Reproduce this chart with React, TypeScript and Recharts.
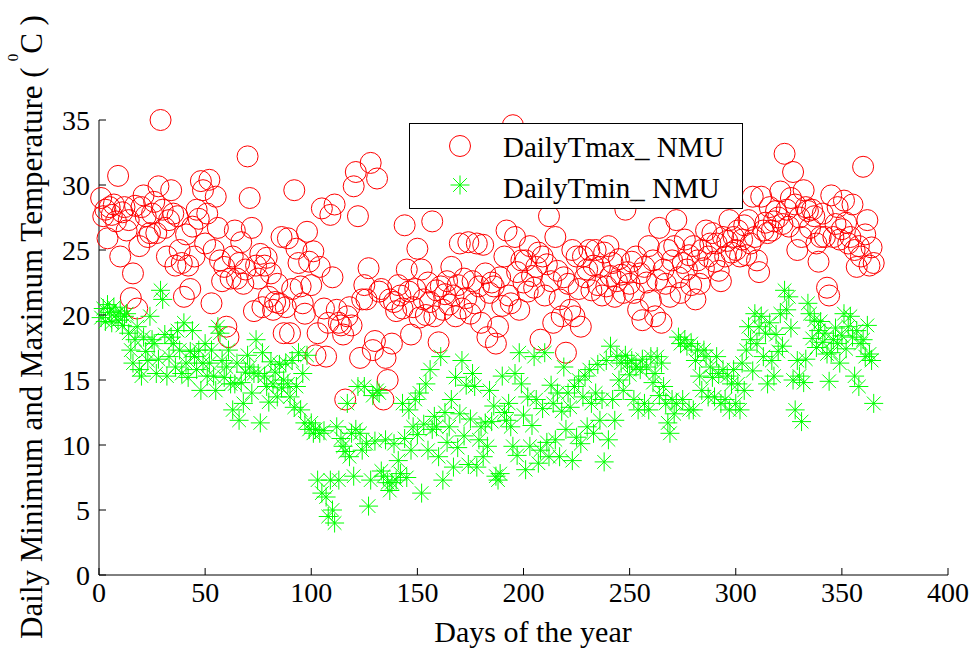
import React from "react";
import { Label, Legend, Scatter, ScatterChart, XAxis, YAxis } from "recharts";

// daily maximum temperature, day 1..365 (deg C)
const tmax = [
  29, 27.6, 28.1, 25.9, 28.3, 27.7, 28.5, 27.2, 30.7, 24.5,
  27.9, 28.3, 26.5, 27.3, 21.3, 23.2, 28.4, 20.5, 25.3, 28.3,
  29.2, 27.6, 26, 26.3, 27.8, 28.7, 26.3, 29.9, 35, 28.1,
  26.7, 24.5, 27.3, 29.6, 27.8, 23.8, 27.6, 25, 24, 21.4,
  26.2, 23.8, 22, 26.8, 24.5, 28.1, 27.4, 30.3, 29.6, 25.5,
  27.8, 30.4, 20.9, 25, 29.1, 26.7, 24.2, 22.6, 23.7, 19.1,
  18.3, 22.8, 24.5, 26.5, 22.8, 24, 25.6, 22.4, 23.5, 32.2,
  29, 26.7, 20.3, 23.8, 22.8, 24.7, 20.6, 23.8, 24.4, 21.4,
  23.2, 20.4, 21, 22.4, 20.9, 26, 18.6, 20.6, 25.9, 18.6,
  22, 29.6, 25.1, 24, 22.2, 20.9, 20.1, 26.4, 24.1, 22.3,
  24.9, 16.9, 18.6, 23.7, 28.2, 20.5, 16.8, 19.4, 27.7, 22.9,
  28.5, 20.4, 19.4, 19.2, 18.5, 13.5, 19.9, 20.6, 19.2, 29.9,
  31, 27.6, 16.7, 21.2, 22.3, 21.2, 23.6, 31.7, 17.3, 18,
  30.5, 21.8, 22, 13.5, 16.7, 15, 21.2, 17.8, 21, 20.3,
  22.3, 21.5, 20.5, 26.9, 23.5, 21.8, 18.5, 20.6, 22, 25.1,
  19.8, 23.5, 21.2, 20, 22.5, 21, 27.2, 19.9, 21.9, 17.9,
  22.2, 20.4, 21.6, 22.6, 20.8, 23.7, 21.5, 19.9, 22.3, 25.5,
  20.5, 22.8, 21.3, 25.6, 20.1, 22.6, 20.9, 25.5, 22.2, 19.4,
  25.4, 23.2, 18.3, 21.7, 22.5, 22.2, 17.8, 19.1, 22.9, 20.7,
  24.5, 26.5, 21.5, 20.9, 34.6, 26, 23.3, 20.4, 24.2, 22.5,
  24.2, 21.8, 25.3, 23, 22.1, 23.7, 24.8, 18.1, 24.5, 21.5,
  23.9, 27.6, 22.6, 19.4, 26, 23.4, 21.2, 19.9, 22.9, 17.1,
  22.4, 20.4, 25, 19.9, 24.5, 22, 19.1, 24.5, 22.9, 23.5,
  25, 21.9, 23.8, 25, 22.3, 23.7, 21.5, 24.8, 22.2, 25.3,
  23, 24, 21.4, 22.6, 24.3, 23.1, 21.7, 28.1, 23.3, 22.4,
  24.1, 21.7, 24.5, 20.4, 23.2, 19.6, 23.7, 22.5, 25.3, 21.1,
  24.2, 19.9, 22.7, 26.7, 19.4, 23.5, 22.4, 25, 21.4, 24.2,
  25.3, 27.3, 22.9, 21.7, 24, 25.8, 23.5, 24.6, 22.3, 25.3,
  21.2, 24.2, 22.4, 25, 23.6, 26.5, 24.5, 25.5, 26.3, 24.1,
  25.5, 23.4, 22.6, 26, 24.5, 25.7, 27.3, 24.8, 26, 25,
  26.5, 24.5, 25.8, 26.9, 24.6, 27.3, 25.5, 29.1, 26, 24.2,
  23.3, 29.1, 26.5, 27.1, 26.3, 28.3, 26.5, 27.2, 28, 27.5,
  29.5, 27, 32.4, 28.1, 26.8, 29, 31, 28.5, 25, 27.5,
  26, 29.6, 28.3, 28, 26.7, 28.1, 27.6, 25.5, 24.1, 26,
  27.8, 26, 22.1, 21.5, 29.2, 26, 27, 28.3, 25.8, 26.6,
  28.8, 27.1, 25.5, 26, 28.5, 25, 23.7, 25.3, 24.5, 31.4,
  26.2, 27.3, 23.8, 25.2, 24,
];

// daily minimum temperature, day 1..365 (deg C)
const tmin = [
  19.8, 20.5, 19.5, 20.8, 20.2, 19.4, 20.6, 20, 19.6, 20.3,
  19.2, 19.9, 20.1, 18.6, 17.3, 16.3, 18.1, 19.1, 15.8, 15.3,
  18.3, 17.2, 16.5, 19.9, 18.1, 17.8, 15.5, 16.6, 21.9, 21.2,
  18.5, 15.3, 16.8, 18.3, 17.8, 16, 18.8, 17.3, 15.5, 19.4,
  16.3, 15.2, 17.2, 18.8, 16.8, 15.8, 17.3, 14.2, 16.3, 17.8,
  15.3, 16.3, 17.3, 15.3, 14.2, 19.1, 18.6, 16.5, 15.2, 16,
  17.3, 14.7, 12.7, 14.7, 16.3, 11.9, 14.8, 13.2, 15.6, 16.9,
  16, 14, 15.5, 18.1, 15.5, 11.7, 17.1, 15.3, 14.5, 13.3,
  16.4, 14.7, 15.6, 13.7, 16.2, 14.4, 15, 16.3, 14.7, 13.7,
  16.5, 12.9, 14.5, 17.1, 12.7, 15.5, 11.7, 16.9, 11.2, 11.7,
  10.9, 11.2, 7.3, 10.9, 6.3, 11.1, 6, 4.5, 7.3, 5,
  4, 11.4, 7.3, 10.5, 9.9, 9.5, 13.2, 9.1, 10.9, 7.6,
  11.2, 14.5, 10.9, 9.6, 14.5, 10.1, 5.3, 7.3, 13.8, 10.3,
  14.2, 14, 8, 7.6, 10.4, 7.1, 6.5, 7.1, 10.1, 7.3,
  8.8, 7.8, 13.2, 10.5, 7.5, 12.7, 9.6, 11.4, 13.5, 10.8,
  14, 6.3, 11.6, 14.7, 9.6, 15.8, 11.2, 12.2, 11.4, 9.1,
  16.8, 7.3, 12.5, 10.2, 11.4, 13.5, 8.3, 15.2, 9.8, 12.4,
  16.5, 10.7, 14.6, 8.5, 12, 15.5, 14.5, 8.3, 10.4, 11.4,
  9.1, 11.7, 9.9, 14.2, 11.8, 13, 7.6, 7.3, 7.8, 15.3,
  12.5, 11.9, 13.2, 11.4, 9.9, 15.5, 9.2, 17.1, 14.7, 12.3,
  8.1, 13.7, 9.9, 11.5, 16.8, 13.5, 8.6, 9.6, 12.8, 17.1,
  10.2, 9.1, 14.6, 13.2, 10.4, 14, 9.1, 12.6, 16, 11.2,
  14, 12.9, 8.8, 14.5, 10.6, 15, 10.1, 13.7, 15.3, 11.4,
  15.8, 13.2, 10.9, 14, 16.2, 11.9, 13.5, 8.7, 16.5, 10.4,
  17.6, 13.5, 11.9, 16.8, 15, 16.3, 14.2, 16.9, 16.3, 15.4,
  16.5, 13.5, 16, 12.7, 15.8, 16.6, 13.2, 16, 12.7, 16.8,
  14.8, 15.5, 16.8, 13.8, 16.3, 14.5, 13.2, 11.7, 10.9, 13.5,
  12.4, 13.2, 18.3, 17.8, 13.5, 18.1, 17.6, 12.7, 17.8, 12.7,
  16.5, 17.3, 15.3, 14.2, 17.3, 16.8, 13.7, 16, 15.2, 13.7,
  16.8, 15.5, 13.2, 15.8, 13.5, 15.3, 12.7, 14.7, 15.8, 13.2,
  14.7, 12.7, 16.3, 14.2, 17.3, 19.1, 18.1, 15.7, 20.1, 17.8,
  19.1, 19.9, 16.8, 18.6, 14.7, 19.4, 16.5, 15.3, 18.5, 17.2,
  20.1, 17.6, 21.9, 20.4, 21.4, 19, 15, 12.7, 16.5, 15.3,
  11.8, 14.8, 16.6, 20.9, 20.1, 18.2, 19.6, 17.5, 18.8, 19.5,
  17.9, 18.6, 17, 14.9, 17.1, 18.1, 19, 17.8, 16.3, 18.4,
  20.1, 17.4, 19.1, 19.9, 18.3, 15.3, 18.8, 14.5, 17.8, 18.1,
  16.8, 19.2, 17, 16.5, 13.2,
];

const xTicks = [0, 50, 100, 150, 200, 250, 300, 350, 400];
const yTicks = [0, 5, 10, 15, 20, 25, 30, 35];

const maxData = tmax.map((t, i) => ({ day: i + 1, t }));
const minData = tmin.map((t, i) => ({ day: i + 1, t }));

const FONT = "Liberation Serif";
const RED = "#ff0000";
const GREEN = "#00ff00";
const TICK = 7;
const txt = { fontFamily: FONT, fill: "#000" };

function circleMark(p: any) {
  return <circle cx={p.cx} cy={p.cy} r={10.5} fill="none" stroke={RED} strokeWidth={1} />;
}

function starMark(p: any) {
  const r = 9.5;
  const d = r * 0.72;
  const { cx, cy } = p;
  return (
    <g stroke={GREEN} strokeWidth={1}>
      <line x1={cx - r} y1={cy} x2={cx + r} y2={cy} />
      <line x1={cx} y1={cy - r} x2={cx} y2={cy + r} />
      <line x1={cx - d} y1={cy - d} x2={cx + d} y2={cy + d} />
      <line x1={cx - d} y1={cy + d} x2={cx + d} y2={cy - d} />
    </g>
  );
}

const bottomTick = (p: any) => (
  <g>
    <line x1={p.x} y1={p.y} x2={p.x} y2={p.y - TICK} stroke="#000" />
    <text x={p.x} y={p.y + 27} textAnchor="middle" fontSize={28} style={txt}>
      {p.payload.value}
    </text>
  </g>
);

const topTick = (p: any) => (
  <line x1={p.x} y1={p.y} x2={p.x} y2={p.y + TICK} stroke="#000" />
);

const leftTick = (p: any) => (
  <g>
    <line x1={p.x} y1={p.y} x2={p.x + TICK} y2={p.y} stroke="#000" />
    <text x={p.x - 9} y={p.y + 10} textAnchor="end" fontSize={28} style={txt}>
      {p.payload.value}
    </text>
  </g>
);

const rightTick = (p: any) => (
  <line x1={p.x} y1={p.y} x2={p.x - TICK} y2={p.y} stroke="#000" />
);

function LegendBox(props: any) {
  const items = props.payload || [];
  const names = ["DailyTmax_ NMU", "DailyTmin_ NMU"].map((n, i) => (items[i] && items[i].value) || n);
  return (
    <div
      style={{
        width: 334,
        height: 86,
        border: "1px solid #000",
        boxSizing: "border-box",
        background: "#fff",
      }}
    >
      <svg width={332} height={84}>
        {circleMark({ cx: 50, cy: 22 })}
        {starMark({ cx: 50, cy: 61 })}
        <text x={93} y={33} fontSize={29} style={txt}>
          {names[0]}
        </text>
        <text x={93} y={74} fontSize={29} style={txt}>
          {names[1]}
        </text>
      </svg>
    </div>
  );
}

export default function App() {
  return (
    <div
      style={{
        position: "absolute",
        left: 0,
        top: 0,
        width: 977,
        height: 648,
        background: "#fff",
        fontFamily: FONT,
      }}
    >
      <ScatterChart width={977} height={648} margin={{ top: 120, right: 29, bottom: 0, left: 0 }}>
        <XAxis
          dataKey="day"
          type="number"
          domain={[0, 400]}
          ticks={xTicks}
          interval={0}
          height={73}
          tickSize={0}
          tickMargin={0}
          tickLine={false}
          axisLine={{ stroke: "#000" }}
          tick={bottomTick}
        >
          <Label
            content={() => (
              <text x={533} y={642} textAnchor="middle" fontSize={30} style={txt}>
                Days of the year
              </text>
            )}
          />
        </XAxis>
        <XAxis
          xAxisId="top"
          orientation="top"
          type="number"
          domain={[0, 400]}
          ticks={xTicks}
          interval={0}
          allowDataOverflow
          height={0}
          tickSize={0}
          tickMargin={0}
          tickLine={false}
          axisLine={{ stroke: "#000" }}
          tick={topTick}
        />
        <YAxis
          dataKey="t"
          type="number"
          domain={[0, 35]}
          ticks={yTicks}
          interval={0}
          width={99}
          tickSize={0}
          tickMargin={0}
          tickLine={false}
          axisLine={{ stroke: "#000" }}
          tick={leftTick}
        >
          <Label
            content={() => (
              <text transform="rotate(-90)" x={-327} y={42} textAnchor="middle" fontSize={31} style={txt}>
                Daily Minimum and Maximum Temperature (
                <tspan dx={6} dy={-24} fontSize={15}>0</tspan>
                <tspan dy={24}>C )</tspan>
              </text>
            )}
          />
        </YAxis>
        <YAxis
          yAxisId="right"
          orientation="right"
          type="number"
          domain={[0, 35]}
          ticks={yTicks}
          interval={0}
          allowDataOverflow
          width={0}
          tickSize={0}
          tickMargin={0}
          tickLine={false}
          axisLine={{ stroke: "#000" }}
          tick={rightTick}
        />
        <Scatter name="DailyTmax_ NMU" data={maxData} dataKey="t" shape={circleMark} isAnimationActive={false} />
        <Scatter name="DailyTmin_ NMU" data={minData} dataKey="t" shape={starMark} isAnimationActive={false} />
        <Legend
          layout="horizontal"
          verticalAlign="middle"
          align="center"
          wrapperStyle={{ left: 409, top: 123, width: 334, height: 86 }}
          content={LegendBox}
        />
      </ScatterChart>
    </div>
  );
}
